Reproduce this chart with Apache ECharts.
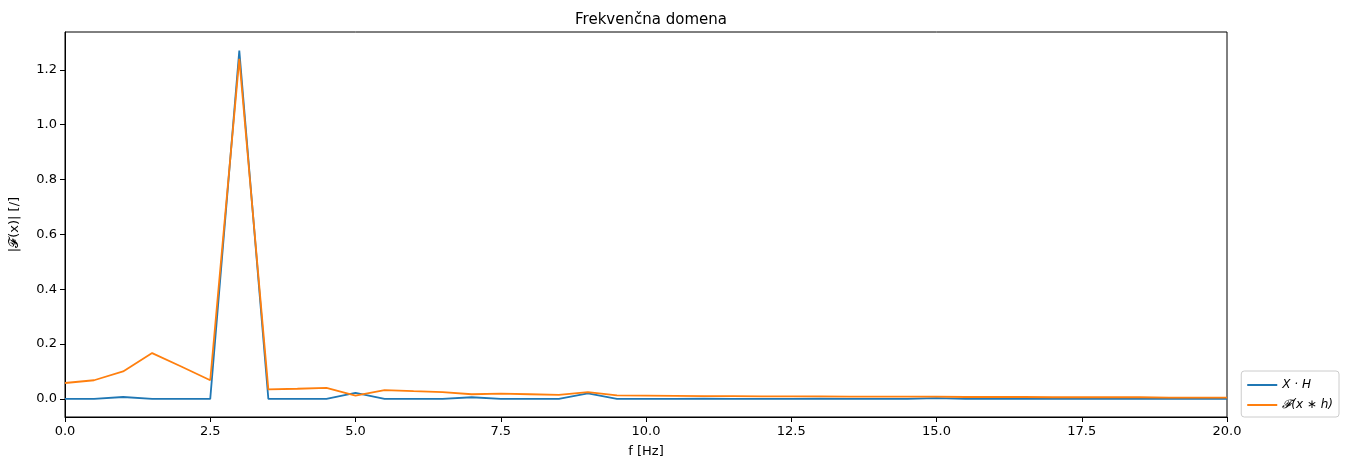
<!DOCTYPE html>
<html><head><meta charset="utf-8">
<script src="https://cdn.jsdelivr.net/npm/echarts@6/dist/echarts.min.js"></script>
<style>html,body{margin:0;padding:0;background:#fff}#c{width:1349px;height:470px}</style>
</head><body><div id="c"></div>
<script>
const freqs = [0,0.5,1,1.5,2,2.5,3,3.5,4,4.5,5,5.5,6,6.5,7,7.5,8,8.5,9,9.5,10,10.5,11,11.5,12,12.5,13,13.5,14,14.5,15,15.5,16,16.5,17,17.5,18,18.5,19,19.5,20];
const xh = [0,0,0.007,0,0,0,1.27,0,0,0,0.022,0,0,0,0.006,0,0,0,0.02,0,0,0,0.001,0,0,0,0.001,0,0,0,0.003,0,0,0,0.001,0,0,0,0.001,0,0];
const fxh = [0.058,0.068,0.10,0.167,0.118,0.068,1.24,0.035,0.037,0.04,0.012,0.032,0.028,0.025,0.017,0.019,0.017,0.015,0.025,0.013,0.012,0.011,0.010,0.010,0.009,0.009,0.009,0.008,0.008,0.008,0.008,0.007,0.007,0.007,0.006,0.006,0.006,0.006,0.005,0.005,0.005];
const yTicks = [0,0.2,0.4,0.6,0.8,1.0,1.2];
const chart = echarts.init(document.getElementById('c'));
const font = 'DejaVu Sans';
chart.setOption({
  animation:false,
  textStyle:{fontFamily:font},
  title:{text:'Frekvenčna domena',left:646,top:8,textAlign:'center',textStyle:{fontFamily:font,fontSize:15,fontWeight:'normal',color:'#000'}},
  grid:{left:65,right:122,top:32,bottom:53},
  legend:{right:10,bottom:53,orient:'vertical',itemWidth:30,itemHeight:2,itemGap:8,padding:[8,6,6,6],
    borderColor:'#ccc',borderWidth:1,borderRadius:3,icon:'rect',
    textStyle:{fontFamily:font,fontSize:12,fontStyle:'italic',color:'#000'}},
  xAxis:{type:'value',min:0,max:20,interval:2.5,name:'f [Hz]',nameLocation:'middle',nameGap:28,
    nameTextStyle:{fontSize:13,color:'#000'},
    axisLine:{onZero:false,lineStyle:{color:'#000'}},axisTick:{lineStyle:{color:'#000'}},
    axisLabel:{color:'#000',fontSize:13,formatter:v=>v.toFixed(1)},splitLine:{show:false}},
  yAxis:{type:'value',min:-0.066,max:1.338,name:'|𝓕(x)| [/]',nameLocation:'middle',nameGap:44,
    nameTextStyle:{fontSize:13,color:'#000'},
    axisLine:{show:true,lineStyle:{color:'#000'}},
    axisTick:{show:true,customValues:yTicks,lineStyle:{color:'#000'}},
    axisLabel:{color:'#000',fontSize:13,customValues:yTicks,formatter:v=>v.toFixed(1)},splitLine:{show:false}},
  series:[
    {name:'X · H',type:'line',showSymbol:false,data:freqs.map((f,i)=>[f,xh[i]]),lineStyle:{color:'#1f77b4',width:1.8},itemStyle:{color:'#1f77b4'}},
    {name:'𝓕(x ∗ h)',type:'line',showSymbol:false,data:freqs.map((f,i)=>[f,fxh[i]]),lineStyle:{color:'#ff7f0e',width:1.8},itemStyle:{color:'#ff7f0e'}}
  ],
  graphic:[{type:'rect',shape:{x:65,y:32,width:1162,height:385},style:{fill:null,stroke:'#000',lineWidth:1},silent:true}]
});
</script></body></html>
